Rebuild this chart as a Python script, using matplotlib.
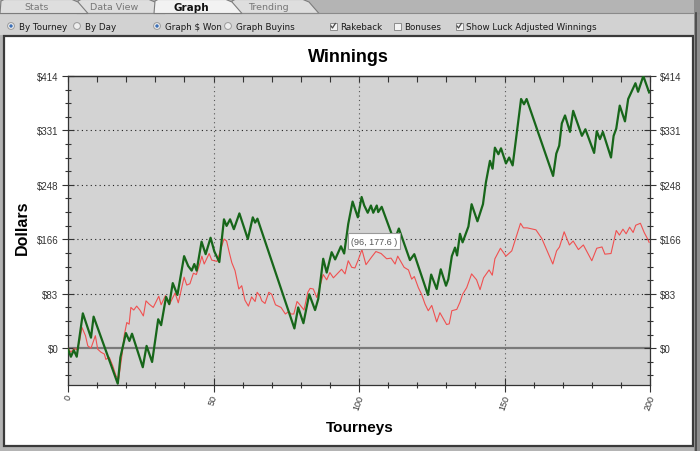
import numpy as np
import matplotlib
matplotlib.use("Agg")
import matplotlib.pyplot as plt
from matplotlib.patches import Rectangle, Polygon, Circle
from matplotlib.ticker import MultipleLocator, FixedLocator

plt.rcParams['font.family'] = ['Liberation Sans', 'DejaVu Sans']

## luck adjusted winnings (green)
luck_x = [0.0, 1.0, 2.0, 3.0, 5.1, 7.9, 8.8, 17.1, 18.0, 19.9, 21.1, 22.0, 25.7, 27.0,
          28.9, 31.0, 32.0, 33.7, 34.8, 36.0, 37.6, 39.9, 41.3, 42.5, 43.4, 44.2, 45.9,
          47.3, 49.0, 50.3, 52.0, 53.6, 54.5, 55.7, 57.0, 58.9, 61.8, 63.5, 64.3, 65.1,
          77.8, 79.1, 80.9, 82.9, 84.9, 86.0, 87.7, 88.9, 90.6, 91.8, 93.8, 94.9, 96.3,
          97.8, 99.6, 100.9, 101.8, 103.0, 104.1, 104.9, 106.1, 106.6, 107.8, 112.1,
          113.7, 117.5, 119.0, 123.7, 124.8, 126.7, 128.1, 129.9, 130.7, 131.9, 133.0,
          133.7, 134.7, 135.6, 137.6, 138.7, 140.7, 142.6, 143.6, 145.0, 145.9, 146.7,
          147.9, 148.8, 150.5, 151.6, 152.8, 155.7, 156.7, 157.6, 166.7, 167.8, 168.8,
          169.7, 170.8, 172.5, 173.6, 176.6, 177.8, 180.8, 181.7, 182.8, 183.8, 186.6,
          187.5, 188.4, 189.6, 191.4, 192.5, 195.0, 195.9, 197.7, 199.7]
luck_y = [-1.5, -13, -3, -13, 53, 16, 48, -54, -14, 23, 11, 22, -29, 3.5,
          -21, 44, 35, 78, 67, 99, 81, 140, 125, 118, 128, 118, 162,
          143, 168, 147, 131, 196, 186, 196, 181, 205, 166, 199, 191, 197,
          30, 62, 38, 82, 58, 75, 136, 115, 146, 135, 155, 144, 189,
          223, 199, 230, 217, 206, 217, 206, 217, 207, 215, 163,
          182, 134, 143, 81, 112, 90, 120, 95, 105, 140, 153,
          141, 174, 161, 185, 219, 193, 219, 252, 285, 273, 305,
          295, 304, 281, 290, 278, 379, 371, 379, 262, 296, 308,
          342, 354, 329, 361, 323, 333, 297, 330, 318, 329, 290,
          323, 334, 369, 345, 379, 403, 390, 414, 389]

## $ won (red)
won_x = [0.0, 1.0, 2.0, 3.0, 3.9, 4.8, 6.0, 6.8, 7.9, 9.4, 10.2, 11.3, 12.5, 13.0,
         14.2, 15.4, 16.5, 17.4, 18.6, 19.3, 20.2, 21.0, 21.6, 22.6, 23.6, 24.7, 25.9,
         26.8, 27.9, 29.3, 31.2, 32.0, 33.5, 34.8, 36.8, 37.9, 39.9, 40.8, 41.9, 43.1,
         44.1, 45.4, 46.0, 46.8, 48.5, 49.4, 51.2, 53.6, 54.5, 55.4, 56.3, 57.4, 58.7,
         59.7, 60.8, 62.0, 63.1, 64.3, 65.0, 66.0, 66.6, 67.7, 69.0, 70.0, 71.3, 73.2,
         74.7, 75.9, 76.6, 77.6, 78.7, 79.5, 81.1, 82.4, 83.2, 84.3, 85.5, 87.7, 88.9,
         90.0, 91.2, 92.9, 94.0, 95.2, 96.3, 97.5, 98.6, 99.8, 101.0, 102.4, 104.4,
         105.8, 107.6, 109.5, 111.0, 112.4, 113.3, 115.5, 117.0, 118.1, 119.0, 120.4,
         121.5, 122.7, 123.8, 125.0, 126.7, 127.8, 130.1, 131.0, 131.9, 133.6, 134.7,
         135.6, 137.0, 138.7, 140.4, 141.6, 142.8, 144.7, 145.8, 146.7, 148.6, 150.5,
         152.5, 155.5, 156.5, 157.8, 160.8, 162.8, 165.6, 166.6, 167.9, 168.9, 170.5,
         172.3, 173.6, 175.4, 177.1, 180.0, 181.7, 183.5, 184.5, 186.6, 188.4, 189.5,
         190.7, 191.8, 193.0, 194.2, 195.1, 196.7, 198.0, 199.2, 199.7]
won_y = [0, -6, -1, -2, 9, 31.5, 19, 3.5, 0, 19, -1.5, -6, -9, -17,
         -14, -27, -42, -47, -9, 19, 39, 36.5, 62, 58, 64, 58, 49,
         72, 67, 62, 79, 66, 80, 66, 84, 69, 108, 96, 98, 114,
         112, 130, 140, 128, 144, 134, 132, 166, 163, 146, 130, 118, 90,
         95, 73, 64, 78, 71, 85, 79, 72, 68, 85, 82, 66, 62,
         52, 56, 52, 52, 71, 67, 58, 85, 91, 90, 77, 112, 104,
         115, 107, 115, 120, 113, 133, 123, 122, 135, 150, 127, 139,
         147, 144, 136, 137, 128, 140, 123, 119, 105, 109, 92,
         82, 67, 57, 65, 40, 54, 36, 37, 57, 59, 70,
         82, 92, 113, 104, 89, 107, 119, 111, 136, 152, 140,
         148, 190, 183, 183, 180, 167, 138, 128, 148, 154, 177,
         157, 163, 150, 157, 133, 152, 154, 143, 144, 179, 172,
         181, 174, 184, 176, 187, 190, 176, 166, 161]

y_max = 414
y_labels = ['$0', '$83', '$166', '$248', '$331', '$414']
x_ticks = [0, 50, 100, 150, 200]

tab_names = ['Stats', 'Data View', 'Graph', 'Trending']
radio_items = ['By Tourney', 'By Day', 'Graph $ Won', 'Graph Buyins']
radio_on = [True, False, True, False]
check_items = ['Rakeback', 'Bonuses', 'Show Luck Adjusted Winnings']
check_on = [True, False, True]

W, H = 700, 452
fig = plt.figure(figsize=(W / 100, H / 100), dpi=100)

## ---- window chrome, in pixel coords ----
ui = fig.add_axes([0, 0, 1, 1], zorder=0)
ui.set_xlim(0, W)
ui.set_ylim(H, 0)
ui.axis('off')
ui.add_patch(Rectangle((0, 0), W, H, fc='#b4b4b4', ec='none'))
ui.add_patch(Rectangle((0, 14), W, 22, fc='#d2d2d2', ec='none'))
ui.plot([0, W], [14, 14], color='#8a8a8a', lw=0.8)

tab_left = [0, 77, 154, 231]
for i, name in enumerate(tab_names):
    x0 = tab_left[i]
    x1 = x0 + 88
    active = name == 'Graph'
    pts = [(x0, 14.5), (x0 + 1, 2), (x0 + 4, 0.5), (x1 - 16, 0.5), (x1 - 10, 3), (x1, 14.5)]
    ui.add_patch(Polygon(pts, closed=True, fc='#f2f2f2' if active else '#dedede',
                         ec='#7c7c7c', lw=0.8, zorder=3 if active else 2 - i * 0.1))
    ui.text(x0 + 37, 8, name, ha='center', va='center', fontsize=7.5 if active else 6.8,
            fontweight='bold' if active else 'normal',
            color='#111111' if active else '#777777', family='DejaVu Sans', zorder=4)

radio_pos = [11, 77, 157, 228]
for xp, label, on in zip(radio_pos, radio_items, radio_on):
    ui.add_patch(Circle((xp, 27), 3.4, fc='#eeeeee', ec='#9a9a9a', lw=0.7))
    if on:
        ui.add_patch(Circle((xp, 27), 1.7, fc='#3b6fb6', ec='none'))
    ui.text(xp + 8, 27.5, label, ha='left', va='center', fontsize=6.3,
            color='#1a1a1a', family='DejaVu Sans')

check_pos = [333, 397, 459]
for xp, label, on in zip(check_pos, check_items, check_on):
    ui.add_patch(Rectangle((xp - 3.5, 23.5), 7, 7, fc='#f4f4f4', ec='#8c8c8c', lw=0.7))
    if on:
        ui.plot([xp - 2, xp - 0.5, xp + 2.3], [27, 29, 24.5], color='#4a4a4a', lw=0.9)
    ui.text(xp + 7, 27.5, label, ha='left', va='center', fontsize=6.3,
            color='#1a1a1a', family='DejaVu Sans')

ui.add_patch(Rectangle((4, 37), 689, 410, fc='white', ec='#3a3a3a', lw=1.6))
ui.add_patch(Rectangle((694, 0), 6, H, fc='#8e8e8e', ec='none'))
ui.plot([695.5, 695.5], [14, H], color='#444444', lw=1.2)

## ---- the chart ----
left, right, top, bottom = 68, 650, 77, 386
ax = fig.add_axes([left / W, 1 - bottom / H, (right - left) / W, (bottom - top) / H], zorder=2)
ax.set_facecolor('#d3d3d3')

for yv in np.arange(1, 5) * y_max / 5:
    ax.axhline(yv, color='#222222', lw=0.8, ls=(0, (1, 3)), zorder=1)
for xv in x_ticks[1:-1]:
    ax.axvline(xv, color='#555555', lw=0.8, ls=(0, (1, 3)), zorder=1)
ax.axhline(0, color='#7a7a7a', lw=1.6, zorder=1)

ax.plot(won_x, won_y, color='#f05050', lw=0.8, zorder=3)
ax.plot(luck_x, luck_y, color='#17661a', lw=1.6, zorder=4)

ax.set_xlim(0, 200)
ax.set_ylim(-56, y_max)

ax.yaxis.set_major_locator(FixedLocator(np.arange(6) * y_max / 5))
ax.set_yticklabels(y_labels)
ax.yaxis.set_minor_locator(MultipleLocator(y_max / 20))
ax.xaxis.set_major_locator(FixedLocator(x_ticks))
ax.xaxis.set_minor_locator(MultipleLocator(10))
ax.set_xticklabels([str(v) for v in x_ticks], rotation=70)

ax.tick_params(axis='y', which='both', direction='inout', left=True, right=True,
               labelleft=True, labelright=True, colors='#333333', labelsize=7, width=0.8)
ax.tick_params(axis='y', which='major', length=8, pad=3)
ax.tick_params(axis='y', which='minor', length=4)
ax.tick_params(axis='x', which='both', direction='inout', colors='#333333',
               labelsize=6.5, width=0.8)
ax.tick_params(axis='x', which='major', length=10, pad=1)
ax.tick_params(axis='x', which='minor', length=5)

top_ax = ax.secondary_xaxis('top')
top_ax.xaxis.set_major_locator(MultipleLocator(10))
top_ax.tick_params(direction='in', length=4, labeltop=False, colors='#333333', width=0.8)

for sp in list(ax.spines.values()) + list(top_ax.spines.values()):
    sp.set_color('#333333')
    sp.set_linewidth(0.9)

ax.text(105.2, 163, '(96, 177.6 )', ha='center', va='center', fontsize=6.5,
        color='#555555', zorder=6,
        bbox=dict(boxstyle='square,pad=0.35', fc='white', ec='#9a9a9a', lw=0.8))

fig.text(348 / W, 1 - 57 / H, 'Winnings', ha='center', va='center',
         fontsize=13, fontweight='bold', color='black')
fig.text(22 / W, 1 - 228 / H, 'Dollars', ha='center', va='center', rotation=90,
         fontsize=11.5, fontweight='bold', color='black')
fig.text(360 / W, 1 - 428 / H, 'Tourneys', ha='center', va='center',
         fontsize=11, fontweight='bold', color='black')

fig.savefig('out.png', dpi=100)
